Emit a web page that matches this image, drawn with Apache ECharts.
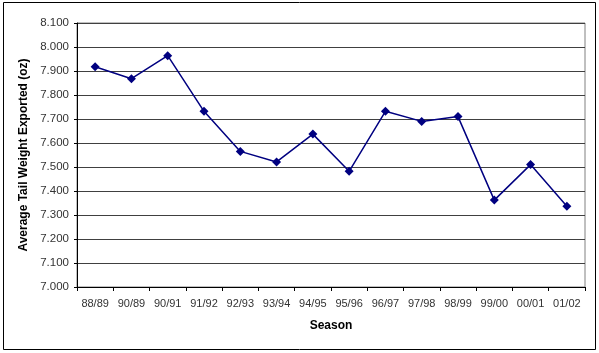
<!DOCTYPE html>
<html>
<head>
<meta charset="utf-8">
<script src="https://cdn.jsdelivr.net/npm/echarts@6/dist/echarts.min.js"></script>
<style>html,body{margin:0;padding:0;background:#fff;}#c{width:599px;height:353px;}</style>
</head>
<body>
<div id="c"></div>
<script>
var seasons = ['88/89','90/89','90/91','91/92','92/93','93/94','94/95','95/96','96/97','97/98','98/99','99/00','00/01','01/02'];
var tailWeight = [7.918, 7.868, 7.964, 7.732, 7.565, 7.521, 7.637, 7.482, 7.732, 7.690, 7.710, 7.362, 7.510, 7.336];
var yTitle = 'Average Tail Weight Exported (oz)';
var xTitle = 'Season';

var chart = echarts.init(document.getElementById('c'), null, {renderer: 'canvas'});
chart.setOption({
  animation: false,
  backgroundColor: '#fff',
  textStyle: {fontFamily: 'Liberation Sans, Arial, sans-serif'},
  graphic: [{
    type: 'rect', shape: {x: 3.5, y: 2.5, width: 592, height: 347},
    style: {fill: 'none', stroke: '#000', lineWidth: 1}, silent: true
  }],
  grid: {left: 77, right: 14, top: 23, bottom: 66, show: true, borderColor: '#808080', borderWidth: 1},
  xAxis: {
    type: 'category', data: seasons, boundaryGap: true,
    name: xTitle, nameLocation: 'middle', nameGap: 33,
    nameTextStyle: {fontWeight: 'bold', fontSize: 12, color: '#000', fontFamily: 'Liberation Sans, Arial, sans-serif'},
    axisLine: {lineStyle: {color: '#000', width: 1}},
    axisTick: {show: true, interval: 0, length: 4, lineStyle: {color: '#000'}},
    axisLabel: {interval: 0, fontSize: 11, color: '#333', margin: 11}
  },
  yAxis: {
    type: 'value', min: 7, max: 8.1, interval: 0.1,
    name: yTitle, nameLocation: 'middle', nameGap: 46, nameRotate: 90,
    nameTextStyle: {fontWeight: 'bold', fontSize: 12, color: '#000', fontFamily: 'Liberation Sans, Arial, sans-serif'},
    axisLine: {show: true, lineStyle: {color: '#000', width: 1}},
    axisTick: {show: true, length: 3, lineStyle: {color: '#000'}},
    axisLabel: {fontSize: 11.5, color: '#333', margin: 8, formatter: function (v) { return v.toFixed(3); }},
    splitLine: {show: true, lineStyle: {color: '#404040', width: 1}}
  },
  series: [{
    type: 'line', data: tailWeight,
    symbol: 'diamond', symbolSize: 9,
    lineStyle: {color: '#000080', width: 1.5},
    itemStyle: {color: '#000080'}
  }]
});
</script>
</body>
</html>
